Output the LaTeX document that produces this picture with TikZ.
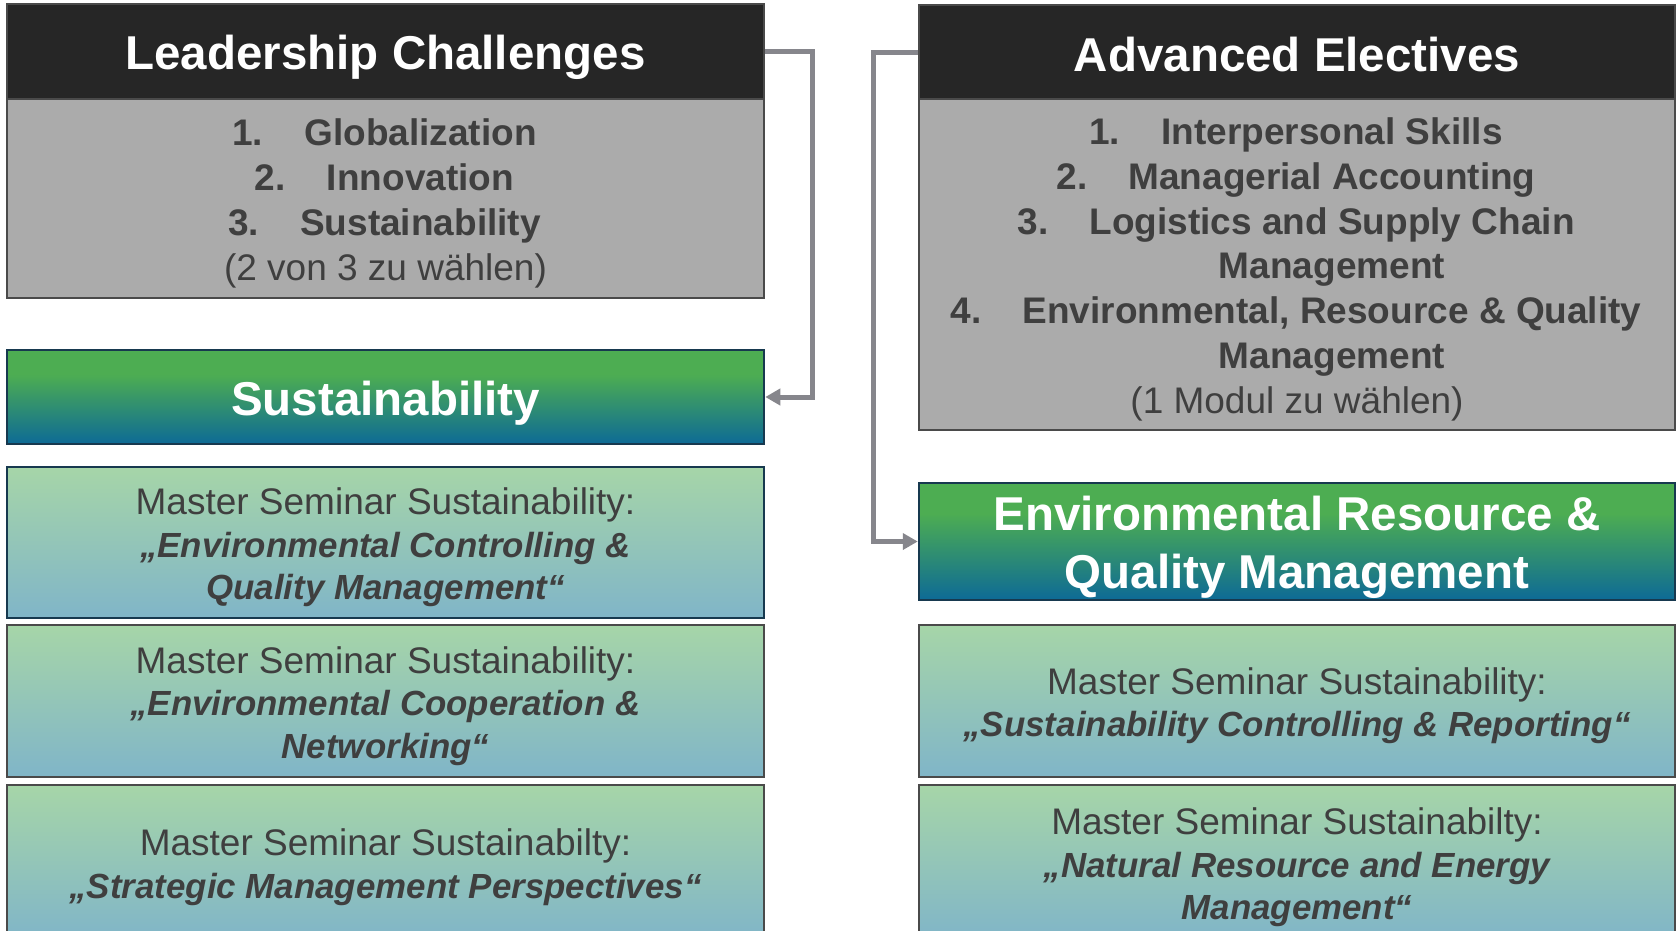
\documentclass[tikz,border=0pt]{standalone}
\usepackage{fontspec}
\setmainfont{Liberation Sans}
\usetikzlibrary{arrows.meta}
\definecolor{hdr}{HTML}{262626}
\definecolor{bodygray}{HTML}{ABABAB}
\definecolor{txt}{HTML}{3F3F3F}
\definecolor{edge}{HTML}{4A4A4A}
\definecolor{navy}{HTML}{17394F}
\definecolor{tgreen}{HTML}{4DAD52}
\definecolor{tblue}{HTML}{0D6A96}
\definecolor{lgreen}{HTML}{A6D5A8}
\definecolor{lblue}{HTML}{80B5C8}
\definecolor{conn}{HTML}{86868C}
\pgfdeclareverticalshading{titleshade}{100bp}{color(0bp)=(tblue); color(25bp)=(tblue); color(62bp)=(tgreen); color(75bp)=(tgreen); color(100bp)=(tgreen)}
% line strut: ascent 0.905em+3pt, descent 0.212em-3pt
\newcommand\st{\rule[\dimexpr3pt-0.212em\relax]{0pt}{1.117em}}
\newcommand\litem[2]{\st\hspace*{70pt}\llap{\makebox[72pt][l]{#1}}#2}
\newcommand\itl{\fontsize{34.9}{42.5}\selectfont\bfseries\itshape}
\begin{document}
\begin{tikzpicture}[x=1pt,y=-1pt,
  basebox/.style={draw=edge, line width=2.5pt, inner sep=0pt, align=center, text=txt},
  hdrbox/.style={basebox, fill=hdr, text=white, font=\fontsize{47.5}{57}\selectfont\bfseries},
  bodybox/.style={basebox, fill=bodygray, font=\fontsize{37}{44.8}\selectfont},
  titlebox/.style={basebox, draw=navy, shading=titleshade, text=white, font=\fontsize{47.5}{57.5}\selectfont\bfseries},
  sembox/.style={basebox, top color=lgreen, bottom color=lblue, font=\fontsize{37}{42.5}\selectfont},
  connline/.style={draw=conn, line width=5pt, -{Triangle[length=15pt,width=16pt]}}
]
\useasboundingbox (0,0) rectangle (1678,930);
\clip (0,0) rectangle (1678,930);
\fill[white] (0,0) rectangle (1678,930);

% left column
\node[hdrbox, minimum width=757pt, minimum height=95pt] (lh) at (385.5,51.5) {\st Leadership Challenges};
\node[bodybox, minimum width=757pt, minimum height=199pt] (lb) at (385.5,198.5)
  {\bfseries\litem{1.}{Globalization}\\ \bfseries\litem{2.}{Innovation}\\ \bfseries\litem{3.}{Sustainability}\\ \st(2 von 3 zu wählen)};
\node[titlebox, minimum width=757pt, minimum height=94pt] (sus) at (385.5,397) {\st Sustainability};
\node[sembox, draw=navy, minimum width=757pt, minimum height=151pt] (s1) at (385.5,542.5)
  {\st Master Seminar Sustainability:\\ \itl\st „Environmental Controlling \&\\ \itl\st Quality Management“};
\node[sembox, minimum width=757pt, minimum height=152pt] (s2) at (385.5,701)
  {\st Master Seminar Sustainability:\\ \itl\st „Environmental Cooperation \&\\ \itl\st Networking“};
\node[sembox, minimum width=757pt, minimum height=155pt] (s3) at (385.5,862.5)
  {\st Master Seminar Sustainabilty:\\ \itl\st „Strategic Management Perspectives“};

% right column
\node[hdrbox, minimum width=756pt, minimum height=94pt] (ah) at (1297,52) {\st Advanced Electives};
\node[bodybox, minimum width=756pt, minimum height=331pt] (ab) at (1297,264.5)
  {\bfseries\litem{1.}{Interpersonal Skills}\\
   \bfseries\litem{2.}{Managerial Accounting}\\
   \bfseries\litem{3.}{Logistics and Supply Chain}\\
   \bfseries\litem{}{Management}\\
   \bfseries\litem{4.}{Environmental, Resource \& Quality}\\
   \bfseries\litem{}{Management}\\
   \st(1 Modul zu wählen)};
\node[titlebox, minimum width=756pt, minimum height=117pt] (erq) at (1297,541.5)
  {\st Environmental Resource \&\\ \st Quality Management};
\node[sembox, minimum width=756pt, minimum height=152pt] (r1) at (1297,701)
  {\st Master Seminar Sustainability:\\ \itl\st „Sustainability Controlling \& Reporting“};
\node[sembox, minimum width=756pt, minimum height=155pt] (r2) at (1297,862.5)
  {\st Master Seminar Sustainabilty:\\ \itl\st „Natural Resource and Energy\\ \itl\st Management“};

% connectors
\coordinate (c1) at (812,50);
\coordinate (c2) at (873,52);
\draw[connline] (lh.east) -- (lh.east -| c1) -- (sus.east -| c1) -- (sus.east);
\draw[connline] (ah.west) -- (ah.west -| c2) -- (erq.west -| c2) -- (erq.west);
\end{tikzpicture}
\end{document}
